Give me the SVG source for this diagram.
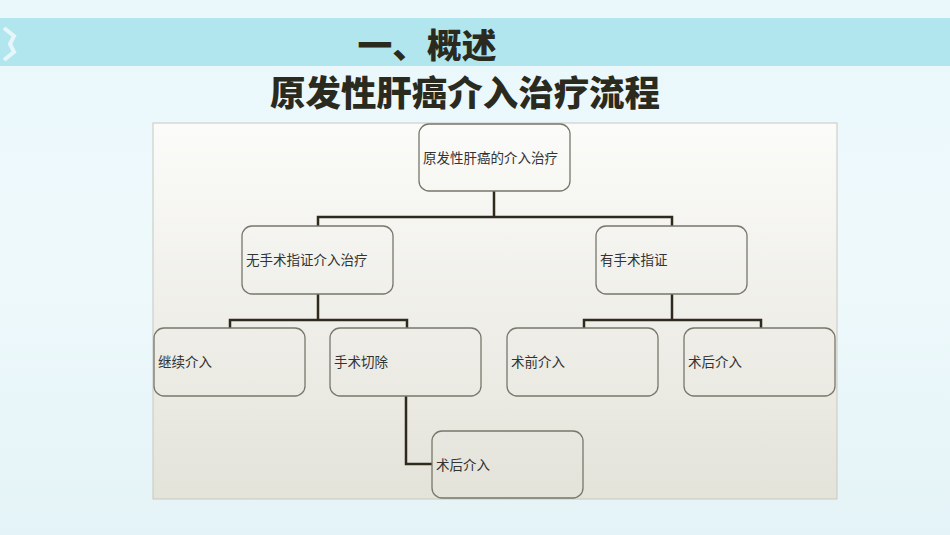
<svg xmlns="http://www.w3.org/2000/svg" width="950" height="535" viewBox="0 0 950 535">
<defs>
<linearGradient id="bg" x1="0" y1="0" x2="0" y2="1"><stop offset="0" stop-color="#eaf8fb"/><stop offset="0.5" stop-color="#eef9fb"/><stop offset="1" stop-color="#e4f3f7"/></linearGradient>
<linearGradient id="pn" x1="0" y1="0" x2="0" y2="1"><stop offset="0" stop-color="#fbfbf9"/><stop offset="1" stop-color="#e4e3da"/></linearGradient>
<style>
.b{fill:none;stroke:#77776b;stroke-width:1.3}
.t{font-family:"Noto Sans CJK SC",sans-serif;font-size:13.5px;fill:#333}
.c{fill:none;stroke:#2e2a1e;stroke-width:2.5}
.h{font-family:"Noto Sans CJK SC",sans-serif;font-weight:900;fill:#2a2a1e;text-anchor:middle}
</style>
</defs>
<rect width="950" height="535" fill="url(#bg)"/>
<rect x="0" y="18" width="950" height="48" fill="#b1e6ee"/>
<path d="M4 28 L14 36 L10 44 L14 52 L4 60" fill="none" stroke="#e6f6f9" stroke-width="4"/>
<text class="h" x="427" y="58" font-size="34" textLength="139" lengthAdjust="spacingAndGlyphs">一、概述</text>
<text class="h" x="465" y="106" font-size="35" textLength="390" lengthAdjust="spacingAndGlyphs">原发性肝癌介入治疗流程</text>
<rect x="153" y="123" width="684" height="376" fill="url(#pn)" stroke="#c8c8c0"/>
<g id="connectors">
<path class="c" d="M494 191V217M318 226V217H672V226"/>
<path class="c" d="M318 294V320M230 328V320H407V328"/>
<path class="c" d="M672 294V320M584 328V320H761V328"/>
<path class="c" d="M406 396V464H432"/>
</g>
<g id="root"><rect class="b" x="419" y="124" width="151" height="67" rx="10"/><text class="t" x="423" y="163">原发性肝癌的介入治疗</text></g>
<g id="no"><rect class="b" x="242" y="226" width="151" height="68" rx="10"/><text class="t" x="246" y="265">无手术指证介入治疗</text></g>
<g id="yes"><rect class="b" x="596" y="226" width="151" height="68" rx="10"/><text class="t" x="600" y="265">有手术指证</text></g>
<g id="n1"><rect class="b" x="154" y="328" width="151" height="68" rx="10"/><text class="t" x="158" y="367">继续介入</text></g>
<g id="n2"><rect class="b" x="330" y="328" width="151" height="68" rx="10"/><text class="t" x="334" y="367">手术切除</text></g>
<g id="n3"><rect class="b" x="507" y="328" width="151" height="68" rx="10"/><text class="t" x="511" y="367">术前介入</text></g>
<g id="n4"><rect class="b" x="684" y="328" width="151" height="68" rx="10"/><text class="t" x="688" y="367">术后介入</text></g>
<g id="n5"><rect class="b" x="432" y="431" width="151" height="67" rx="10"/><text class="t" x="436" y="470">术后介入</text></g>
</svg>
